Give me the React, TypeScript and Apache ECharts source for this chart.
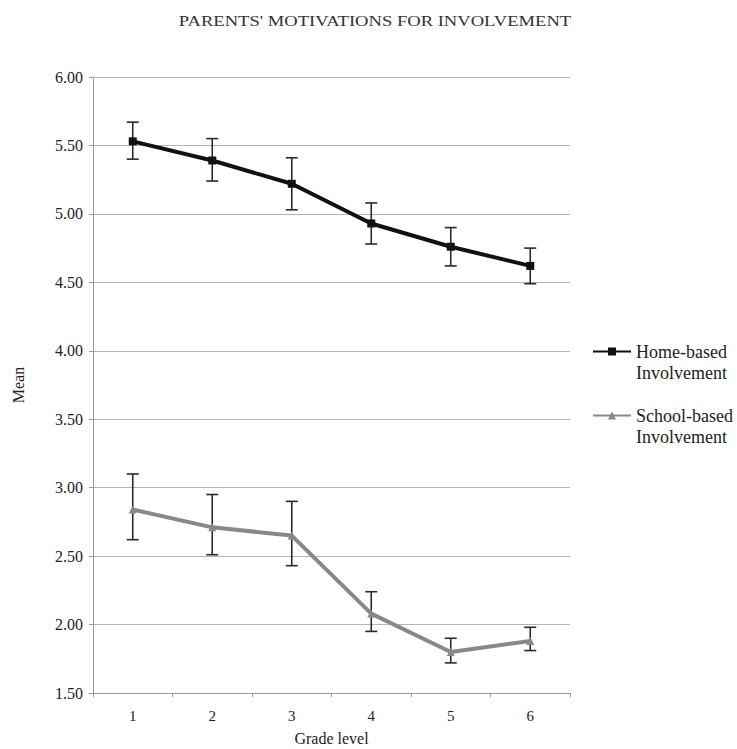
import React, { useEffect, useRef } from "react";
import * as echarts from "echarts";

const grades = ["1", "2", "3", "4", "5", "6"];
const homeMean = [5.53, 5.39, 5.22, 4.93, 4.76, 4.62];
const homeLow = [5.4, 5.24, 5.03, 4.78, 4.62, 4.49];
const homeHigh = [5.67, 5.55, 5.41, 5.08, 4.9, 4.75];
const schoolMean = [2.84, 2.71, 2.65, 2.08, 1.8, 1.88];
const schoolLow = [2.62, 2.51, 2.43, 1.95, 1.72, 1.81];
const schoolHigh = [3.1, 2.95, 2.9, 2.24, 1.9, 1.98];
const titleText = "PARENTS' MOTIVATIONS FOR INVOLVEMENT";

const FONT = "Liberation Serif";

function errorSeries(low: number[], high: number[], name: string) {
  return {
    type: "custom",
    name,
    silent: true,
    z: 1,
    renderItem: (params: any, api: any) => {
      const x = api.value(0);
      const lo = api.coord([x, api.value(1)]);
      const hi = api.coord([x, api.value(2)]);
      const hw = 6;
      const style = { stroke: "#2a2a2a", lineWidth: 1.6 };
      return {
        type: "group",
        children: [
          { type: "line", shape: { x1: lo[0], y1: lo[1], x2: hi[0], y2: hi[1] }, style },
          { type: "line", shape: { x1: hi[0] - hw, y1: hi[1], x2: hi[0] + hw, y2: hi[1] }, style },
          { type: "line", shape: { x1: lo[0] - hw, y1: lo[1], x2: lo[0] + hw, y2: lo[1] }, style },
        ],
      };
    },
    encode: { x: 0, y: [1, 2] },
    data: low.map((l, i) => [i, l, high[i]]),
  };
}

export default function App() {
  const ref = useRef<HTMLDivElement>(null);
  useEffect(() => {
    if (!ref.current) return;
    const chart = echarts.init(ref.current, undefined, { renderer: "svg" });
    chart.setOption({
      animation: false,
      backgroundColor: "#fff",
      graphic: [
        {
          type: "text",
          x: 375,
          y: 21,
          scaleX: 1.24,
          style: {
            text: titleText,
            fontFamily: FONT,
            fontSize: 15,
            fill: "#333",
            align: "center",
            verticalAlign: "middle",
          },
        },
      ],
      grid: { left: 93, right: 167, top: 77, bottom: 56, outerBoundsMode: "none", containLabel: false },
      legend: {
        orient: "vertical",
        left: 592,
        top: 320,
        padding: 0,
        itemGap: 1,
        itemWidth: 38,
        itemHeight: 10,
        itemTextGap: 3,
        data: ["Home-based Involvement", "School-based Involvement"],
        formatter: (n: string) => "\u00a0\n" + n.replace(" ", "\n"),
        textStyle: {
          fontFamily: FONT,
          fontSize: 18,
          color: "#222",
          lineHeight: 21,
        },
      },
      xAxis: {
        type: "category",
        data: grades,
        boundaryGap: true,
        name: "Grade level",
        nameLocation: "middle",
        nameGap: 37,
        nameTextStyle: { fontFamily: FONT, fontSize: 16, color: "#222" },
        axisLine: { lineStyle: { color: "#999" } },
        axisTick: { show: true, alignWithLabel: false, lineStyle: { color: "#999" }, length: 4 },
        axisLabel: { fontFamily: FONT, fontSize: 15, color: "#222", margin: 15 },
      },
      yAxis: {
        type: "value",
        min: 1.5,
        max: 6,
        interval: 0.5,
        name: "Mean",
        nameLocation: "middle",
        nameGap: 67,
        nameRotate: 90,
        nameTextStyle: { fontFamily: FONT, fontSize: 16, color: "#222" },
        axisLine: { show: true, lineStyle: { color: "#999" } },
        axisTick: { show: true, lineStyle: { color: "#999" }, length: 4 },
        axisLabel: {
          fontFamily: FONT,
          fontSize: 16,
          color: "#222",
          margin: 10,
          formatter: (v: number) => v.toFixed(2),
        },
        splitLine: { lineStyle: { color: "#b5b5b5", width: 1 } },
      },
      series: [
        {
          name: "Home-based Involvement",
          type: "line",
          data: homeMean,
          symbol: "rect",
          symbolSize: 8,
          z: 3,
          lineStyle: { color: "#111", width: 4 },
          itemStyle: { color: "#111" },
        },
        {
          name: "School-based Involvement",
          type: "line",
          data: schoolMean,
          symbol: "triangle",
          symbolSize: 8,
          z: 3,
          lineStyle: { color: "#888", width: 4 },
          itemStyle: { color: "#888" },
        },
        errorSeries(homeLow, homeHigh, "homeErr"),
        errorSeries(schoolLow, schoolHigh, "schoolErr"),
      ],
    });
    return () => chart.dispose();
  }, []);
  return <div ref={ref} style={{ width: 737, height: 749, position: "absolute", left: 0, top: 0 }} />;
}
